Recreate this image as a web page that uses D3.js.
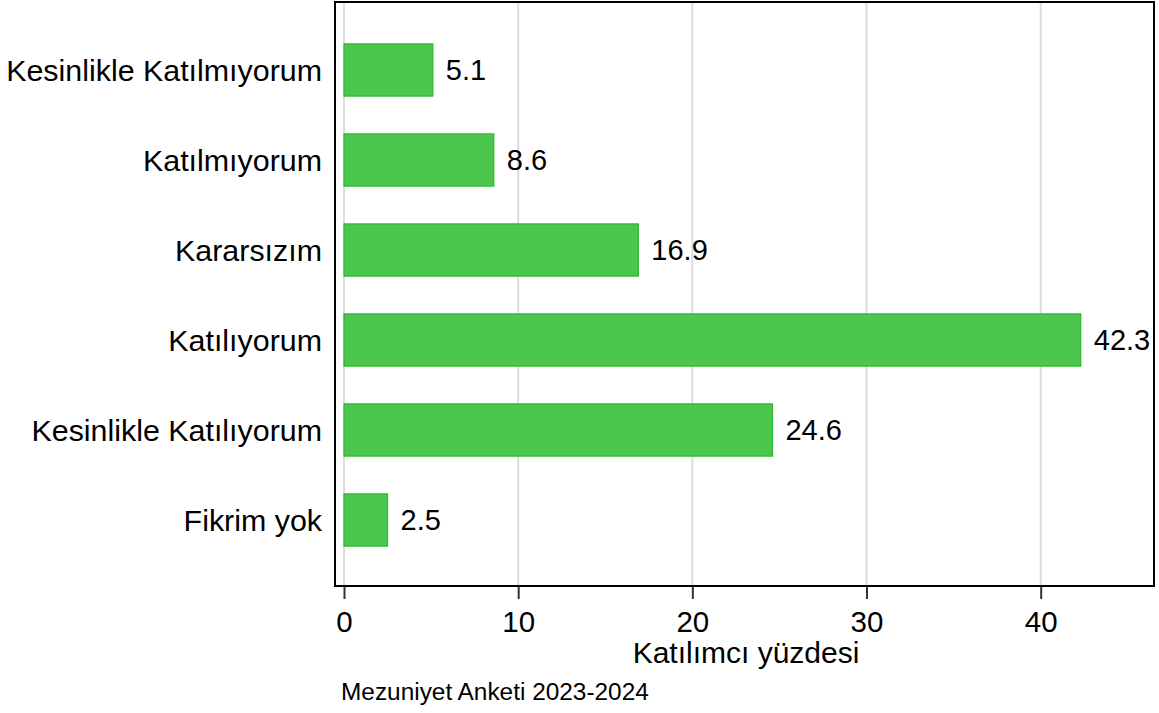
<!DOCTYPE html>
<html>
<head>
<meta charset="utf-8">
<script src="https://cdn.jsdelivr.net/npm/d3@7"></script>
<style>
  body { margin: 0; background: #fff; }
  text { font-family: "Liberation Sans", Arial, sans-serif; fill: #000; }
</style>
</head>
<body>
<svg id="chart" width="1159" height="713"></svg>
<script>
// Survey response categories (top to bottom)
const categories = [
  'Kesinlikle Katılmıyorum',
  'Katılmıyorum',
  'Kararsızım',
  'Katılıyorum',
  'Kesinlikle Katılıyorum',
  'Fikrim yok'
];
const percents = [5.1, 8.6, 16.9, 42.3, 24.6, 2.5];
const xTicks = [0, 10, 20, 30, 40];
const xTitle = 'Katılımcı yüzdesi';
const note = 'Mezuniyet Anketi 2023-2024';

const svg = d3.select('#chart');

// plot frame
const frame = { left: 335, right: 1154, top: 2, bottom: 586 };

const x = d3.scaleLinear()
  .domain([0, 40])
  .range([344, 1040.7]);

const y = d3.scaleBand()
  .domain(categories)
  .range([25, 565])
  .paddingInner(0.42)
  .paddingOuter(0.21);

// Gridlines
svg.append('g')
  .selectAll('line')
  .data(xTicks)
  .join('line')
  .attr('x1', d => x(d))
  .attr('x2', d => x(d))
  .attr('y1', frame.top)
  .attr('y2', frame.bottom)
  .attr('stroke', '#dcdcdc')
  .attr('stroke-width', 2);

// Bars
svg.append('g')
  .selectAll('rect')
  .data(percents)
  .join('rect')
  .attr('x', x(0))
  .attr('y', (d, i) => y(categories[i]))
  .attr('width', d => x(d) - x(0))
  .attr('height', y.bandwidth())
  .attr('fill', '#4cc74e')
  .attr('stroke', '#2bb82d')
  .attr('stroke-width', 1.2);

// Frame
svg.append('rect')
  .attr('x', frame.left)
  .attr('y', frame.top)
  .attr('width', frame.right - frame.left)
  .attr('height', frame.bottom - frame.top)
  .attr('fill', 'none')
  .attr('stroke', '#000')
  .attr('stroke-width', 2);

// Value labels
svg.append('g')
  .selectAll('text')
  .data(percents)
  .join('text')
  .attr('x', d => x(d) + 13)
  .attr('y', (d, i) => y(categories[i]) + y.bandwidth() / 2)
  .attr('dy', '0.35em')
  .attr('font-size', '29px')
  .text(d => d.toFixed(1));

// Category labels
svg.append('g')
  .selectAll('text')
  .data(categories)
  .join('text')
  .attr('x', 322)
  .attr('y', d => y(d) + y.bandwidth() / 2)
  .attr('dy', '0.35em')
  .attr('text-anchor', 'end')
  .attr('font-size', '30.4px')
  .text(d => d);

// X axis
const xAxis = svg.append('g')
  .attr('transform', `translate(0,${frame.bottom + 1})`)
  .call(d3.axisBottom(x).tickValues(xTicks).tickSize(12).tickPadding(12).tickSizeOuter(0));
xAxis.select('.domain').remove();
xAxis.selectAll('line').attr('stroke', '#333').attr('stroke-width', 2);
xAxis.selectAll('text')
  .attr('font-size', '29.5px')
  .style('font-family', '"Liberation Sans", Arial, sans-serif')
  .attr('fill', '#000');

// Axis title
svg.append('text')
  .attr('x', 746)
  .attr('y', 663)
  .attr('text-anchor', 'middle')
  .attr('font-size', '30px')
  .text(xTitle);

// Note
svg.append('text')
  .attr('x', 341)
  .attr('y', 700)
  .attr('font-size', '24.4px')
  .text(note);
</script>
</body>
</html>
